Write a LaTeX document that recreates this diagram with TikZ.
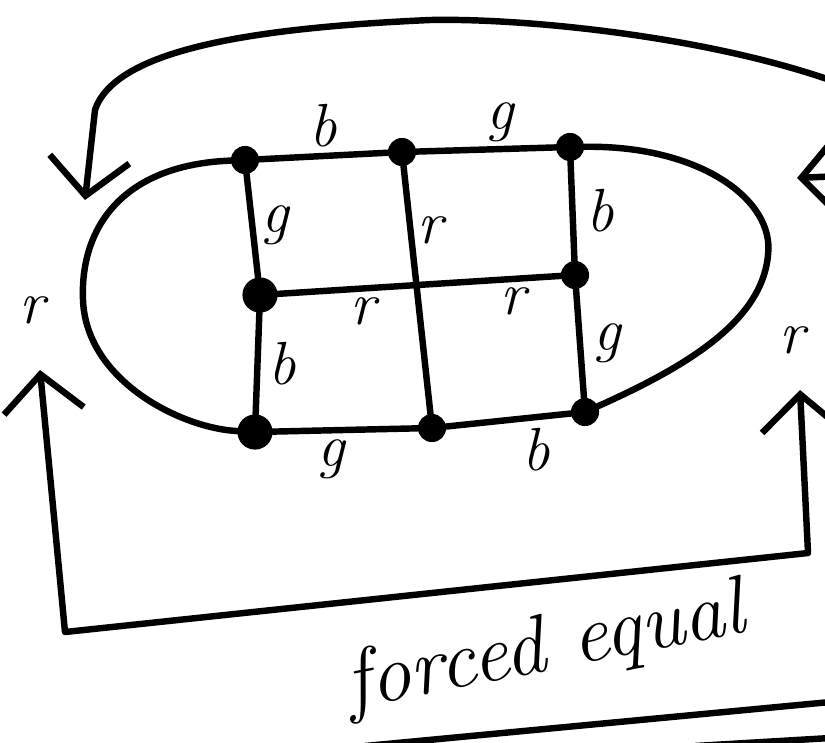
\documentclass[tikz,border=0pt]{standalone}
\usepackage{fontspec}
\usetikzlibrary{arrows.meta,positioning}

\begin{document}
\begin{tikzpicture}[
    x=0.03cm, y=-0.03cm,
    edge/.style={draw, line width=5.5pt, line cap=round, line join=round},
    vertex/.style={circle, fill=black, inner sep=0pt, minimum size=24pt},
    bigvertex/.style={vertex, minimum size=30pt},
    lbl/.style={font=\fontsize{52}{52}\selectfont\itshape, inner sep=3pt},
    barb/.style={edge, -{Straight Barb[length=1.1cm,width=2.4cm,line width=5.5pt]}},
    dblbarb/.style={edge, {Straight Barb[length=1.1cm,width=2.4cm,line width=5.5pt]}-{Straight Barb[length=1.1cm,width=2.4cm,line width=5.5pt]}}
]
\useasboundingbox (0,0) rectangle (825,742);

% Vertices
\node [vertex] (tl) at (245,160) {};
\node [vertex] (tm) at (402,152) {};
\node [vertex] (tr) at (570,147) {};
\node [bigvertex] (ml) at (260,295) {};
\node [vertex] (mr) at (575,275) {};
\node [bigvertex] (bl) at (255,432) {};
\node [vertex] (bm) at (432,428) {};
\node [vertex] (br) at (585,412) {};

% Grid edges
\draw [edge] (tl) -- node [lbl, above=2pt] {b} (tm);
\draw [edge] (tm) -- node [lbl, pos=0.6, above=0pt] {g} (tr);
\draw [edge] (tl) -- node [lbl, right=2pt] {g} (ml);
\draw [edge] (ml) -- node [lbl, right=4pt] {b} (bl);
\draw [edge] (tm) -- node [lbl, pos=0.26, right=0pt] {r} (bm);
\draw [edge] (tr) -- node [lbl, right=6pt] {b} (mr);
\draw [edge] (mr) -- node [lbl, right=6pt] {g} (br);
\draw [edge] (ml) -- node [lbl, pos=0.3, below=2pt] {r} node [lbl, pos=0.83, below=2pt] {r} (mr);
\draw [edge] (bl) -- node [lbl, pos=0.4, below=2pt] {g} (bm);
\draw [edge] (bm) -- node [lbl, pos=0.72, below=4pt] {b} (br);

% Outer arcs
\draw [edge] (tl) .. controls (120,165) and (80,230) .. (83,300)
    .. controls (86,380) and (180,428) .. (bl);
\draw [edge] (tr) .. controls (700,145) and (775,200) .. (768,255)
    .. controls (762,320) and (690,365) .. (br);
\node [lbl] (lr) at (32,310) {r};
\node [lbl] (rr) at (792,340) {r};

% Identification arrows
\coordinate (topR) at (830,80);
\coordinate (topM) at (430,20);
\coordinate (topTip) at (85,200);
\coordinate (sideR) at (840,176);
\coordinate (sideTip) at (797,178);
\coordinate (lowTipL) at (40,370);
\coordinate (lowCornerL) at (65,632);
\coordinate (lowCornerR) at (808,553);
\coordinate (lowTipR) at (800,390);
\draw [barb] (topR) .. controls (700,35) and (520,18) .. (topM)
    .. controls (250,28) and (115,50) .. (95,110) -- (topTip);
\draw [barb] (sideR) -- (sideTip);
\draw [dblbarb] (lowTipL) -- (lowCornerL) -- (lowCornerR) -- (lowTipR);

\node [font=\fontsize{70}{70}\selectfont\itshape, rotate=11] (caption) at (545,650) {forced equal};

% Strokes cut by the page edge
\coordinate (cutA) at (365,746);
\coordinate (cutB) at (830,702);
\coordinate (cutC) at (695,746);
\coordinate (cutD) at (830,738);
\draw [edge] (cutA) -- (cutB);
\draw [edge] (cutC) -- (cutD);

\end{tikzpicture}
\end{document}
